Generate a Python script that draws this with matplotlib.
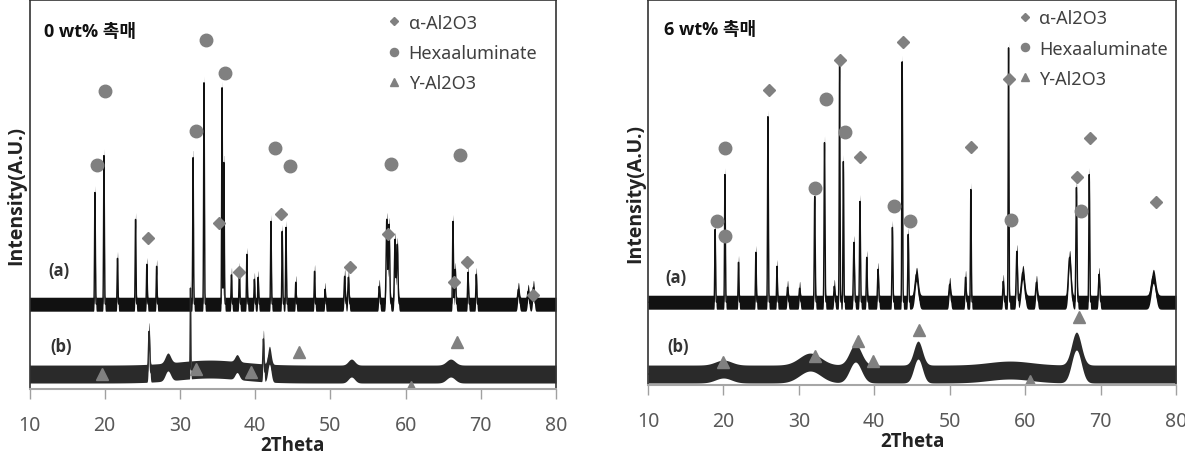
import numpy as np
import matplotlib
matplotlib.use("Agg")
import matplotlib.pyplot as plt

plt.rcParams["font.family"] = ["Noto Sans", "Noto Sans CJK KR", "DejaVu Sans"]

# ---- 0 wt% catalyst : peak positions (2theta), heights above baseline, widths
left_a_base = 85
left_a_pos = [18.7, 19.9, 21.7, 24.1, 25.6, 26.9, 31.75, 33.2, 35.6, 35.85, 36.85, 37.9, 38.9,
              39.9, 40.4, 42.1, 43.6, 44.1, 45.4, 47.9, 49.3, 51.9, 52.4, 56.5, 57.5, 57.8,
              58.6, 58.9, 66.3, 66.6, 68.3, 69.4, 75.0, 76.3, 77.0]
left_a_h = [112, 149, 46, 85, 40, 38, 150, 222, 217, 145, 30, 35, 50,
            25, 27, 83, 73, 77, 22, 33, 15, 28, 27, 18, 85, 80,
            65, 60, 83, 35, 32, 30, 15, 13, 17]
left_a_w = [0.07, 0.07, 0.07, 0.07, 0.07, 0.07, 0.07, 0.07, 0.07, 0.07, 0.07, 0.07, 0.07,
            0.07, 0.07, 0.07, 0.07, 0.07, 0.07, 0.07, 0.07, 0.1, 0.1, 0.1, 0.12, 0.12,
            0.12, 0.12, 0.08, 0.1, 0.08, 0.08, 0.15, 0.15, 0.15]

left_b_base = 15
left_b_pos = [25.9, 28.4, 31.4, 34.0, 37.6, 41.1, 41.9, 52.8, 66.0]
left_b_h = [42, 10, 82, 5, 7, 34, 18, 6, 6]
left_b_w = [0.12, 0.5, 0.05, 6.0, 0.4, 0.1, 0.3, 0.6, 0.8]

# ---- 6 wt% catalyst
right_a_base = 83
right_a_pos = [18.9, 20.2, 22.0, 24.3, 25.9, 27.1, 28.5, 30.1, 32.1, 33.4, 34.7, 35.4, 35.9,
               37.3, 38.1, 39.0, 40.5, 42.4, 43.7, 44.5, 45.6, 50.0, 52.1, 52.8, 57.1, 57.8,
               58.9, 59.7, 61.5, 65.9, 66.8, 68.5, 69.8, 77.0]
right_a_h = [73, 128, 40, 50, 186, 36, 15, 14, 106, 160, 16, 238, 141,
             60, 101, 45, 33, 75, 241, 68, 28, 18, 25, 113, 21, 255,
             51, 30, 20, 45, 115, 128, 28, 26]
right_a_w = [0.07, 0.07, 0.07, 0.07, 0.07, 0.07, 0.1, 0.1, 0.08, 0.08, 0.1, 0.07, 0.07,
             0.1, 0.08, 0.08, 0.1, 0.08, 0.07, 0.08, 0.3, 0.15, 0.1, 0.07, 0.1, 0.07,
             0.12, 0.3, 0.15, 0.25, 0.1, 0.08, 0.12, 0.4]

right_b_base = 11
right_b_pos = [20.0, 31.5, 37.5, 45.8, 58.0, 66.8]
right_b_h = [5, 12, 21, 24, 4, 33]
right_b_w = [1.5, 2.0, 1.1, 0.8, 4.0, 0.9]

# ---- phase markers (2theta, intensity)
left_alpha_x = [25.8, 35.2, 37.9, 43.5, 52.6, 57.7, 66.5, 68.2, 77.0]
left_alpha_y = [151, 166, 117, 175, 122, 155, 107, 127, 94]
left_hexa_x = [19.0, 20.1, 32.1, 33.4, 36.0, 42.6, 44.7, 58.0, 67.2]
left_hexa_y = [225, 299, 259, 350, 317, 242, 224, 226, 235]
left_gam_x = [19.7, 32.1, 39.4, 45.8, 60.7, 66.8]
left_gam_y = [15, 20, 17, 37, 2, 47]

right_alpha_x = [26.0, 35.5, 38.1, 43.8, 52.8, 57.9, 66.9, 68.6, 77.3]
right_alpha_y = [296, 326, 229, 344, 239, 307, 209, 248, 183]
right_hexa_x = [19.1, 20.2, 20.2, 32.1, 33.6, 36.1, 42.6, 44.8, 58.1, 67.4]
right_hexa_y = [164, 238, 149, 198, 287, 254, 179, 164, 165, 174]
right_gam_x = [19.9, 32.1, 37.8, 39.8, 45.9, 60.7, 67.1]
right_gam_y = [23, 29, 44, 24, 55, 4, 68]

xticks = [10, 20, 30, 40, 50, 60, 70, 80]
titles = ["0 wt% 촉매", "6 wt% 촉매"]
legend_labels = ["α-Al2O3", "Hexaaluminate", "Y-Al2O3"]

tt = np.linspace(10, 80, 3501)
bold_fam = ["Open Sans", "Noto Sans CJK KR", "DejaVu Sans"]


def trace(base, pos, h, w):
    y = np.full_like(tt, float(base))
    for p, hh, ww in zip(pos, h, w):
        y += hh * np.exp(-((tt - p) / ww) ** 2)
    return y


def noisy(ax, y, band, col):
    # thick dark band standing in for the noisy baseline
    ax.fill_between(tt, y - band, y + band, color=col, lw=0)
    ax.plot(tt, y, color=col, lw=1.0)


fig = plt.figure(figsize=(11.85, 4.56), dpi=100)
ax1 = fig.add_axes([29.5 / 1185, 66 / 456, 526.5 / 1185, 389 / 456])
ax2 = fig.add_axes([648 / 1185, 70 / 456, 528 / 1185, 385 / 456])

panels = [
    (ax1, 390, (left_a_base, left_a_pos, left_a_h, left_a_w), (left_b_base, left_b_pos, left_b_h, left_b_w),
     (left_alpha_x, left_alpha_y, left_hexa_x, left_hexa_y, left_gam_x, left_gam_y),
     (0.679, 0.965), (0.036, 0.305), (0.04, 0.11), (0.027, 0.92)),
    (ax2, 386, (right_a_base, right_a_pos, right_a_h, right_a_w), (right_b_base, right_b_pos, right_b_h, right_b_w),
     (right_alpha_x, right_alpha_y, right_hexa_x, right_hexa_y, right_gam_x, right_gam_y),
     (0.70, 0.976), (0.033, 0.28), (0.036, 0.10), (0.03, 0.925)),
]

mcol = "#808080"
for i, (ax, top, ta, tb, mk, legpos, apos, bpos, tpos) in enumerate(panels):
    noisy(ax, trace(*ta), 7, "#111111")
    noisy(ax, trace(*tb), 9, "#2a2a2a")

    h1, = ax.plot(mk[0], mk[1], "D", ms=6.5, color=mcol, ls="none", label=legend_labels[0])
    h2, = ax.plot(mk[2], mk[3], "o", ms=9, color=mcol, ls="none", label=legend_labels[1])
    h3, = ax.plot(mk[4], mk[5], "^", ms=9, color=mcol, ls="none", label=legend_labels[2])

    ax.set_xlim(10, 80)
    ax.set_ylim(0, top)
    ax.set_xticks(xticks)
    ax.set_yticks([])
    ax.tick_params(axis="x", direction="out", length=7, width=1, color="#a0a0a0",
                   labelsize=14, labelcolor="#595959", pad=12)
    for s in ["left", "top", "right"]:
        ax.spines[s].set_color("#333333")
        ax.spines[s].set_linewidth(1.2)
    ax.spines["bottom"].set_color("#a6a6a6")
    ax.spines["bottom"].set_linewidth(1.5)

    ax.set_xlabel("2Theta", fontsize=13.5, fontweight="bold", family=bold_fam, color="#222222", labelpad=0)
    ax.set_ylabel("Intensity(A.U.)", fontsize=14, fontweight="bold", family=bold_fam, color="#222222", labelpad=2)

    ax.text(tpos[0], tpos[1], titles[i], transform=ax.transAxes, fontsize=13, fontweight="bold",
            family=bold_fam, color="#111111", va="center")
    ax.text(apos[0], apos[1], "(a)", transform=ax.transAxes, fontsize=12, fontweight="bold",
            family=bold_fam, color="#333333", va="center")
    ax.text(bpos[0], bpos[1], "(b)", transform=ax.transAxes, fontsize=12, fontweight="bold",
            family=bold_fam, color="#333333", va="center")

    leg = ax.legend(handles=[h1, h2, h3], loc="upper left", bbox_to_anchor=legpos, frameon=False,
                    fontsize=13, handlelength=0.8, handletextpad=0.4, borderpad=0, borderaxespad=0,
                    labelspacing=0.68, markerscale=0.65)
    for t in leg.get_texts():
        t.set_color("#404040")

fig.savefig("out.png", dpi=100)
